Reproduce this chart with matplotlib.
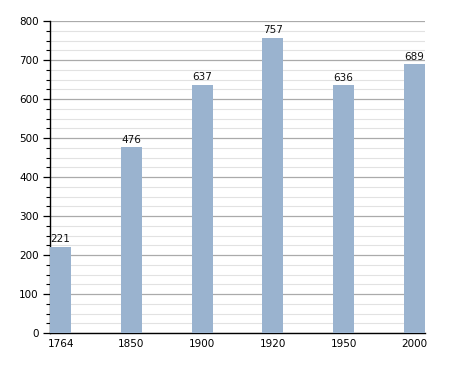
import matplotlib
matplotlib.use("Agg")
import matplotlib.pyplot as plt
from matplotlib.ticker import MultipleLocator

years = ["1764", "1850", "1900", "1920", "1950", "2000"]
population = [221, 476, 637, 757, 636, 689]

W, H = 455, 373
fig = plt.figure(figsize=(W / 100, H / 100), dpi=100)
ax = fig.add_axes([50 / W, (H - 333) / H, 375 / W, 312 / H])

x = list(range(len(years)))
bw = 0.3
ax.bar(x, population, width=bw, color="#9ab3cf", zorder=3)
for xi, v in zip(x, population):
    ax.text(xi, v + 6, str(v), ha="center", va="bottom", fontsize=7.5,
            color="#111111", zorder=4)

ax.set_xlim(-bw / 2, len(years) - 1 + bw / 2)
ax.set_ylim(0, 800)
ax.set_xticks(x)
ax.set_xticklabels(years)
ax.yaxis.set_major_locator(MultipleLocator(100))
ax.yaxis.set_minor_locator(MultipleLocator(25))
ax.grid(axis="y", which="major", color="#aaaaaa", linewidth=0.9, zorder=0)
ax.grid(axis="y", which="minor", color="#e2e2e2", linewidth=0.8, zorder=0)
ax.tick_params(axis="x", length=0, labelsize=7.5, pad=4)
ax.tick_params(axis="y", which="major", length=5, width=0.9, labelsize=7.5, pad=3)
ax.tick_params(axis="y", which="minor", length=3, width=0.8)
for s in ["top", "right"]:
    ax.spines[s].set_visible(False)
ax.spines["left"].set_linewidth(1.0)
ax.spines["bottom"].set_linewidth(1.0)

fig.savefig("out.png", dpi=100)
